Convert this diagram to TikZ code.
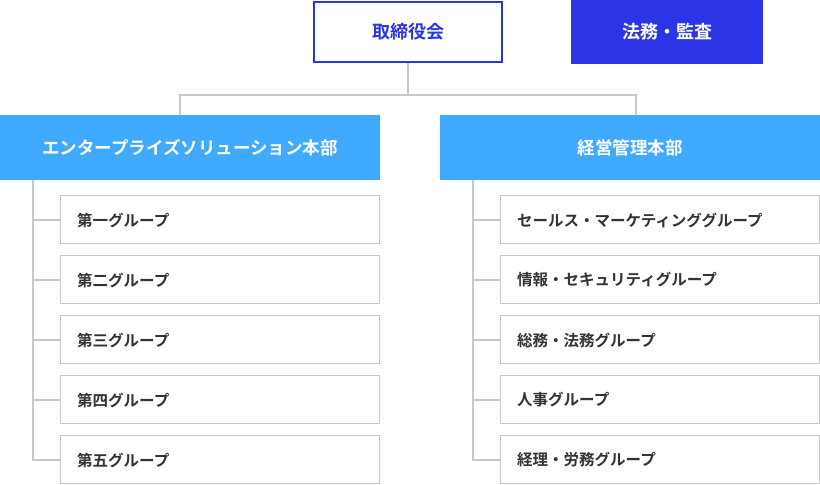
\documentclass[tikz,border=0pt]{standalone}
\usepackage{fontspec}
\setmainfont{Noto Sans CJK JP}[BoldFont=* Bold]
\definecolor{topblue}{HTML}{2B35E5}
\definecolor{divblue}{HTML}{3FAAFF}
\definecolor{linegray}{HTML}{C8C8C8}
\definecolor{txtgray}{HTML}{333333}
\tikzset{
  topbox/.style={draw=topblue, line width=2pt, fill=white, minimum width=188pt, minimum height=60pt, inner sep=0pt, text=topblue, font=\fontsize{18}{21}\selectfont\bfseries},
  auditbox/.style={fill=topblue, minimum width=192pt, minimum height=64pt, inner sep=0pt, text=white, font=\fontsize{18}{21}\selectfont\bfseries},
  divbox/.style={fill=divblue, minimum width=380pt, minimum height=65pt, inner sep=0pt, text=white, font=\fontsize{17.5}{21}\selectfont\bfseries},
  grpbox/.style={draw=linegray, line width=1pt, fill=white, minimum width=319pt, minimum height=48pt, inner sep=0pt},
  grptext/.style={anchor=west, text=txtgray, font=\fontsize{15.5}{18}\selectfont\bfseries, inner sep=0pt},
  conn/.style={draw=linegray, line width=2pt},
}
\begin{document}
\begin{tikzpicture}[x=1pt,y=-1pt]
\useasboundingbox (0,0) rectangle (820,485);
\node[topbox] (board) at (408,32) {取締役会};
\node[auditbox] (audit) at (667,32) {法務・監査};
\node[divbox] (esd) at (190,147.5) {エンタープライズソリューション本部};
\node[divbox] (mgd) at (630,147.5) {経営管理本部};
\coordinate (jl) at (180,95);
\coordinate (jr) at (636,95);
\coordinate (jm) at (408,95);
\draw[conn] (board.south) -- (jm);
\draw[conn] (180,115) -- (jl) -- (jr) -- (636,115);
% left groups
\foreach \n/\t [count=\i from 0] in {l1/第一グループ,l2/第二グループ,l3/第三グループ,l4/第四グループ,l5/第五グループ}{
  \node[grpbox] (\n) at (220,219.5+60*\i) {};
  \node[grptext] (\n t) at (77,220+60*\i) {\t};
}
\foreach \n/\t [count=\i from 0] in {r1/セールス・マーケティンググループ,r2/情報・セキュリティグループ,r3/総務・法務グループ,r4/人事グループ,r5/経理・労務グループ}{
  \node[grpbox] (\n) at (660,219.5+60*\i) {};
  \node[grptext] (\n t) at (517,220+60*\i) {\t};
}
\coordinate (ls) at (33,180);
\coordinate (rs) at (473,180);
\draw[conn] (ls) |- (l5.west);
\draw[conn] (rs) |- (r5.west);
\foreach \n in {l1,l2,l3,l4}{ \draw[conn] (33,0 |- \n.west) -- (\n.west); }
\foreach \n in {r1,r2,r3,r4}{ \draw[conn] (473,0 |- \n.west) -- (\n.west); }
\end{tikzpicture}
\end{document}
